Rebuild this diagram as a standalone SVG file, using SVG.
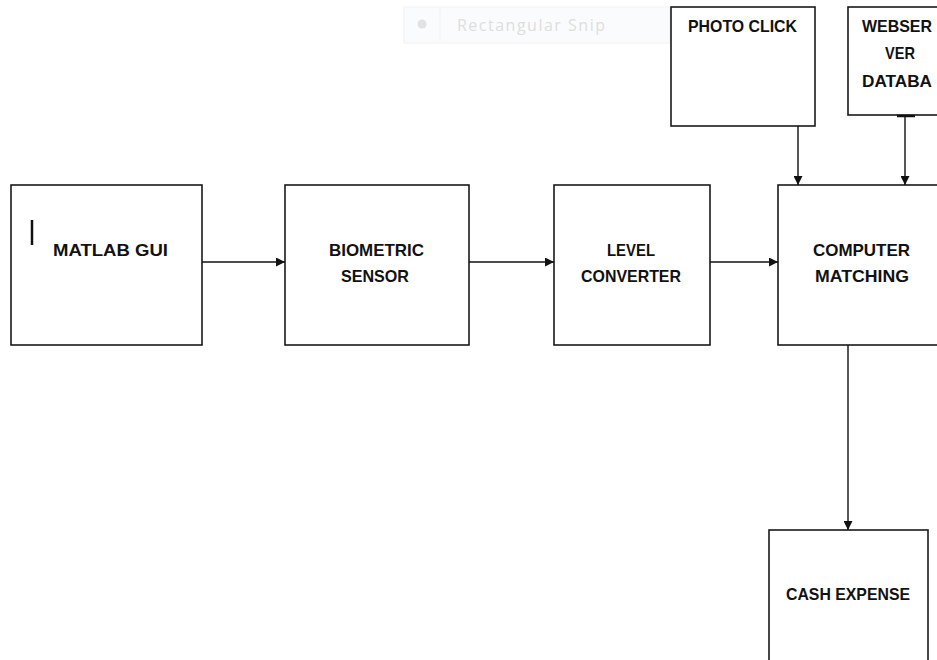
<svg xmlns="http://www.w3.org/2000/svg" width="937" height="660" viewBox="0 0 937 660">
<style>
.box{fill:#fff;stroke:#1a1a1a;stroke-width:1.6}
.lbl{font-family:"Liberation Sans",Arial,sans-serif;font-weight:bold;font-size:16.5px;fill:#111;text-anchor:middle}
.conn{stroke:#111;stroke-width:1.4;fill:none;marker-end:url(#ah)}
</style>
<defs>
<marker id="ah" viewBox="0 0 10 10" refX="10" refY="5" markerWidth="9" markerHeight="9" markerUnits="userSpaceOnUse" orient="auto">
<path d="M0,0 L10,5 L0,10 z" fill="#111"/>
</marker>
</defs>
<rect width="937" height="660" fill="#fff"/>
<g id="snip">
<rect x="404" y="7" width="266" height="36" fill="#fafbfc" stroke="#f0f1f4"/>
<line x1="440" y1="9" x2="440" y2="41" stroke="#f0f1f4"/>
<circle cx="422" cy="24" r="4.5" fill="#e2e2e2"/>
<text x="457" y="31" font-family="'Open Sans','Liberation Sans',sans-serif" font-size="16" fill="#dedede" textLength="148">Rectangular Snip</text>
</g>
<g id="matlab">
<rect class="box" x="11" y="185" width="191" height="160"/>
<line x1="32" y1="220" x2="32" y2="245" stroke="#111" stroke-width="2.5"/>
<text class="lbl" x="110.5" y="256" textLength="115" lengthAdjust="spacingAndGlyphs">MATLAB GUI</text>
</g>
<g id="biometric">
<rect class="box" x="285" y="185" width="184" height="160"/>
<text class="lbl" x="376.5" y="256" textLength="95" lengthAdjust="spacingAndGlyphs">BIOMETRIC</text>
<text class="lbl" x="375" y="282" textLength="68" lengthAdjust="spacingAndGlyphs">SENSOR</text>
</g>
<g id="level">
<rect class="box" x="554" y="185" width="156" height="160"/>
<text class="lbl" x="631" y="256" textLength="48" lengthAdjust="spacingAndGlyphs">LEVEL</text>
<text class="lbl" x="631" y="282" textLength="100" lengthAdjust="spacingAndGlyphs">CONVERTER</text>
</g>
<g id="computer">
<rect class="box" x="778" y="185" width="170" height="160"/>
<text class="lbl" x="861.5" y="256" textLength="97" lengthAdjust="spacingAndGlyphs">COMPUTER</text>
<text class="lbl" x="862" y="282" textLength="94" lengthAdjust="spacingAndGlyphs">MATCHING</text>
</g>
<g id="photo">
<rect class="box" x="671" y="7" width="144" height="119"/>
<text class="lbl" x="742.5" y="32" textLength="109" lengthAdjust="spacingAndGlyphs">PHOTO CLICK</text>
</g>
<g id="webserver">
<rect class="box" x="848" y="7" width="100" height="108"/>
<text class="lbl" x="897" y="32" textLength="70" lengthAdjust="spacingAndGlyphs">WEBSER</text>
<text class="lbl" x="900" y="59" textLength="30" lengthAdjust="spacingAndGlyphs">VER</text>
<text class="lbl" x="897" y="87" textLength="70" lengthAdjust="spacingAndGlyphs">DATABA</text>
</g>
<g id="cash">
<rect class="box" x="769" y="530" width="159" height="140"/>
<text class="lbl" x="848" y="600" textLength="124" lengthAdjust="spacingAndGlyphs">CASH EXPENSE</text>
</g>
<g id="connectors">
<line class="conn" x1="202" y1="262" x2="285" y2="262"/>
<line class="conn" x1="469" y1="262" x2="554" y2="262"/>
<line class="conn" x1="710" y1="262" x2="778" y2="262"/>
<line class="conn" x1="798" y1="126" x2="798" y2="185"/>
<line x1="897" y1="116" x2="915" y2="116" stroke="#111" stroke-width="2.5"/>
<line class="conn" x1="905" y1="115" x2="905" y2="185"/>
<line class="conn" x1="848" y1="345" x2="848" y2="530"/>
</g>
</svg>
